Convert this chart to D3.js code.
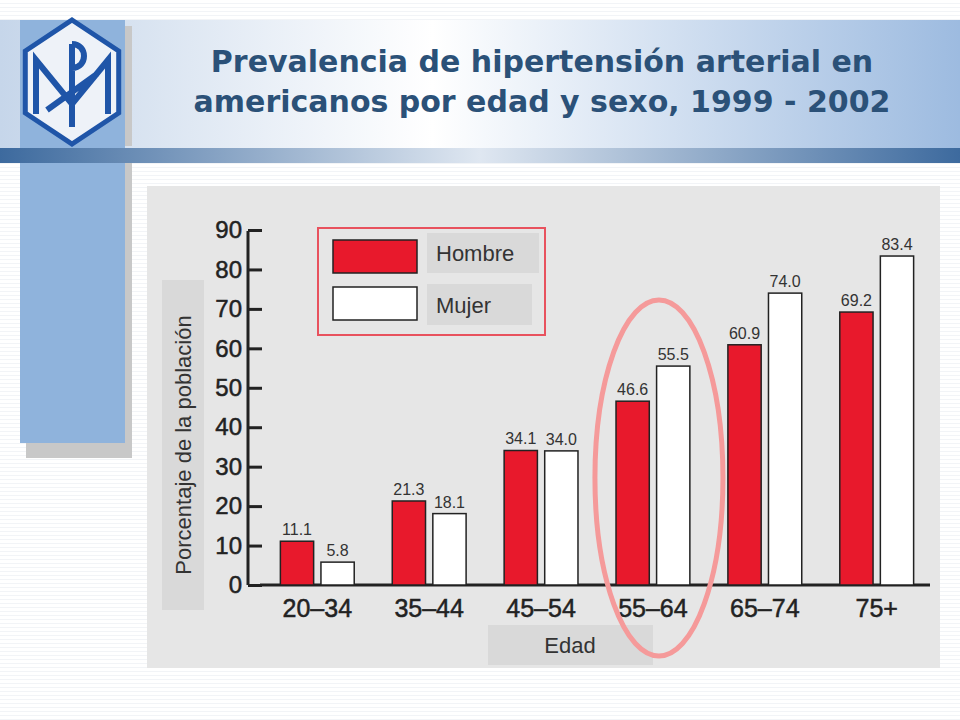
<!DOCTYPE html>
<html><head><meta charset="utf-8">
<script src="https://cdn.jsdelivr.net/npm/d3@7"></script>
<style>body{margin:0;background:#fff}svg{display:block}</style>
</head><body><svg id="c" width="960" height="720"></svg>
<script>
const ageGroups = ['20–34', '35–44', '45–54', '55–64', '65–74', '75+'];
const hombre = [11.1, 21.3, 34.1, 46.6, 60.9, 69.2];
const mujer = [5.8, 18.1, 34.0, 55.5, 74.0, 83.4];
const yTicks = [0, 10, 20, 30, 40, 50, 60, 70, 80, 90];

const svg = d3.select('#c');
const defs = svg.append('defs');

// light horizontal stripes in the slide background
const pat = defs.append('pattern').attr('id', 'stripe').attr('width', 4).attr('height', 4).attr('patternUnits', 'userSpaceOnUse');
pat.append('rect').attr('width', 4).attr('height', 4).attr('fill', '#fff');
pat.append('rect').attr('y', 3).attr('width', 4).attr('height', 1).attr('fill', '#f2f4f7');
svg.append('rect').attr('width', 960).attr('height', 720).attr('fill', 'url(#stripe)');

const hg = defs.append('linearGradient').attr('id', 'hdr');
hg.append('stop').attr('offset', '0').attr('stop-color', '#c6d6ea');
hg.append('stop').attr('offset', '0.45').attr('stop-color', '#ffffff');
hg.append('stop').attr('offset', '1').attr('stop-color', '#9dbbe0');
svg.append('rect').attr('x', 0).attr('y', 20).attr('width', 960).attr('height', 128).attr('fill', 'url(#hdr)');

const bg = defs.append('linearGradient').attr('id', 'bar');
bg.append('stop').attr('offset', '0').attr('stop-color', '#3d6a9e');
bg.append('stop').attr('offset', '0.5').attr('stop-color', '#dfe7f1');
bg.append('stop').attr('offset', '1').attr('stop-color', '#3d6a9e');
svg.append('rect').attr('x', 0).attr('y', 148).attr('width', 960).attr('height', 15).attr('fill', 'url(#bar)');

// left blue column with shadow
svg.append('rect').attr('x', 26).attr('y', 26).attr('width', 106).attr('height', 120).attr('fill', '#c8c8c8');
svg.append('rect').attr('x', 20).attr('y', 20).attr('width', 105).attr('height', 128).attr('fill', '#8fb3dc');
svg.append('rect').attr('x', 26).attr('y', 163).attr('width', 106).attr('height', 295).attr('fill', '#c8c8c8');
svg.append('rect').attr('x', 20).attr('y', 163).attr('width', 105).attr('height', 280).attr('fill', '#8fb3dc');

// logo
const lg = svg.append('g').attr('transform', 'translate(72,82)');
const hex = d3.range(6).map(i => { const a = Math.PI / 3 * i - Math.PI / 2; return [62 * Math.cos(a) * 0.87, 62 * Math.sin(a)]; });
lg.append('polygon').attr('points', hex.map(p => p.join(',')).join(' ')).attr('fill', '#eef2f8').attr('stroke', '#1f55a8').attr('stroke-width', 5);
lg.append('path').attr('d', 'M-36,32 L-36,-22 L0,22 L36,-22 L36,32 M0,-38 L0,45 M-25,28 L25,-8 M0,-38 C16,-38 16,-14 0,-14')
  .attr('fill', 'none').attr('stroke', '#1f55a8').attr('stroke-width', 6);

svg.append('text').attr('x', 542).attr('y', 72).attr('text-anchor', 'middle')
  .attr('font-family', 'DejaVu Sans').attr('font-weight', 'bold').attr('font-size', 30).attr('fill', '#2b5178')
  .selectAll('tspan').data(['Prevalencia de hipertensión arterial en', 'americanos por edad y sexo, 1999 - 2002']).join('tspan')
  .attr('x', 542).attr('dy', (d, i) => i ? 40 : 0).text(d => d);

// chart panel
svg.append('rect').attr('x', 147).attr('y', 186).attr('width', 793).attr('height', 482).attr('fill', '#e6e6e6');

const y = d3.scaleLinear().domain([0, 90]).range([585, 230]);
const x0 = d3.scaleBand().domain(ageGroups).range([258, 936]).paddingInner(0.34).paddingOuter(0.2);
const x1 = d3.scaleBand().domain(['h', 'm']).range([0, x0.bandwidth()]).paddingInner(0.18);

const ax = svg.append('g').attr('transform', 'translate(262,0)')
  .call(d3.axisLeft(y).tickValues(yTicks).tickSize(14).tickPadding(6).tickFormat(d3.format('d')));
ax.select('.domain').attr('stroke', '#222').attr('stroke-width', 3).attr('d', 'M-14,231V585');
ax.selectAll('.tick line').attr('stroke', '#222').attr('stroke-width', 3);
ax.selectAll('text').attr('font-family', 'Liberation Sans').attr('font-size', 24).attr('fill', '#222').attr('stroke', '#222').attr('stroke-width', 0.5);
svg.append('line').attr('x1', 260).attr('x2', 930).attr('y1', 585).attr('y2', 585).attr('stroke', '#222').attr('stroke-width', 3);

const g = svg.append('g').selectAll('g').data(ageGroups).join('g').attr('transform', d => `translate(${x0(d)},0)`);
g.append('text').attr('x', x0.bandwidth() / 2).attr('y', 617).attr('text-anchor', 'middle')
  .attr('font-family', 'Liberation Sans').attr('font-size', 25).attr('fill', '#222').attr('stroke', '#222').attr('stroke-width', 0.5).text(d => d);
[['h', hombre, '#e8192c'], ['m', mujer, '#ffffff']].forEach(([k, vals, col]) => {
  g.append('rect').attr('x', x1(k)).attr('width', x1.bandwidth())
    .attr('y', (d, i) => y(vals[i])).attr('height', (d, i) => y(0) - y(vals[i]))
    .attr('fill', col).attr('stroke', '#222').attr('stroke-width', 1.5);
  g.append('text').attr('x', x1(k) + x1.bandwidth() / 2).attr('y', (d, i) => y(vals[i]) - 6)
    .attr('text-anchor', 'middle').attr('font-family', 'Liberation Sans Narrow, Liberation Sans').attr('font-size', 16)
    .attr('fill', '#333').text((d, i) => vals[i].toFixed(1));
});

// legend
svg.append('rect').attr('x', 318).attr('y', 228).attr('width', 227).attr('height', 107).attr('fill', 'none').attr('stroke', '#e8525e').attr('stroke-width', 2);
svg.append('rect').attr('x', 333).attr('y', 240).attr('width', 84).attr('height', 33).attr('fill', '#e8192c').attr('stroke', '#222').attr('stroke-width', 1.5);
svg.append('rect').attr('x', 333).attr('y', 287).attr('width', 84).attr('height', 33).attr('fill', '#fff').attr('stroke', '#222').attr('stroke-width', 1.5);
svg.append('rect').attr('x', 427).attr('y', 233).attr('width', 112).attr('height', 40).attr('fill', '#d9d9d9');
svg.append('rect').attr('x', 427).attr('y', 284).attr('width', 105).attr('height', 41).attr('fill', '#d9d9d9');
svg.append('text').attr('x', 436).attr('y', 261).attr('font-family', 'Liberation Sans').attr('font-size', 22).attr('fill', '#333').text('Hombre');
svg.append('text').attr('x', 436).attr('y', 313).attr('font-family', 'Liberation Sans').attr('font-size', 22).attr('fill', '#333').text('Mujer');

// axis title boxes
svg.append('rect').attr('x', 162).attr('y', 280).attr('width', 42).attr('height', 330).attr('fill', '#d9d9d9');
svg.append('text').attr('transform', 'translate(191,445) rotate(-90)').attr('text-anchor', 'middle')
  .attr('font-family', 'Liberation Sans').attr('font-size', 22).attr('fill', '#333').text('Porcentaje de la población');
svg.append('rect').attr('x', 488).attr('y', 625).attr('width', 165).attr('height', 40).attr('fill', '#d9d9d9');
svg.append('text').attr('x', 570).attr('y', 653).attr('text-anchor', 'middle')
  .attr('font-family', 'Liberation Sans').attr('font-size', 22).attr('fill', '#333').text('Edad');

// highlight ellipse
svg.append('ellipse').attr('cx', x0('55–64') + x0.bandwidth() / 2 + 6).attr('cy', 478).attr('rx', 64).attr('ry', 178)
  .attr('fill', 'none').attr('stroke', '#f59a9a').attr('stroke-width', 5);
</script></body></html>
